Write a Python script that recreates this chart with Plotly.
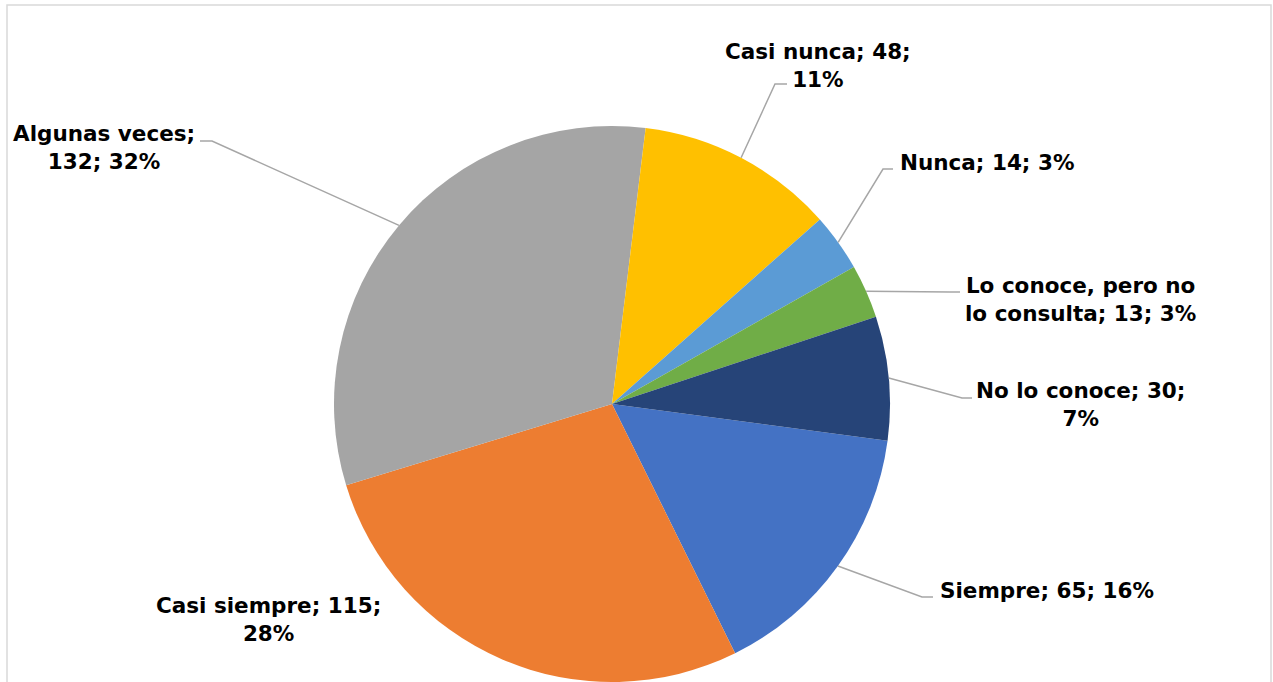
import math
import textwrap
import plotly.graph_objects as go

# Survey answers, in the order the slices are drawn (clockwise)
categories = ["Siempre", "Casi siempre", "Algunas veces", "Casi nunca",
              "Nunca", "Lo conoce, pero no lo consulta", "No lo conoce"]
counts = [65, 115, 132, 48, 14, 13, 30]
percent_labels = [16, 28, 32, 11, 3, 3, 7]

colors = ["#4472C4", "#ED7D31", "#A5A5A5", "#FFC000",
          "#5B9BD5", "#70AD47", "#264478"]

# Canvas and pie geometry (pixels)
W, H = 1273, 682
CX, CY, R = 612, 404, 278
START_ANGLE = 97.6  # degrees clockwise from 12 o'clock for the first slice

# Label placement: text centre, wrap width, and leader line elbow/end points
label_layout = {
    "Algunas veces": dict(pos=(104, 147), wrap=14, leader=[(212, 141), (200, 141)]),
    "Casi nunca": dict(pos=(818, 65), wrap=16, leader=[(775, 84), (787, 84)]),
    "Nunca": dict(pos=(987, 162), wrap=30, leader=[(883, 169), (893, 169)]),
    "Lo conoce, pero no lo consulta": dict(pos=(1080, 299), wrap=19,
                                           leader=[(950, 292), (960, 292)]),
    "No lo conoce": dict(pos=(1080, 404), wrap=18, leader=[(962, 398), (972, 398)]),
    "Siempre": dict(pos=(1047, 590), wrap=30, leader=[(922, 597), (933, 597)]),
    "Casi siempre": dict(pos=(268, 619), wrap=18, leader=None),
}


def px(x):
    return x / W


def py(y):
    return 1 - y / H


fig = go.Figure(go.Pie(
    labels=categories,
    values=counts,
    sort=False,
    direction="clockwise",
    rotation=START_ANGLE,
    marker=dict(colors=colors, line=dict(width=0)),
    textinfo="none",
    hoverinfo="label+value+percent",
    showlegend=False,
    domain=dict(x=[px(CX - R), px(CX + R)], y=[py(CY + R), py(CY - R)]),
))

total = sum(counts)
shapes = []
annotations = []
cum = 0
for cat, val, pct in zip(categories, counts, percent_labels):
    mid = START_ANGLE + (cum + val / 2) / total * 360
    cum += val
    spec = label_layout[cat]
    text = "<br>".join(textwrap.wrap(f"{cat}; {val}; {pct}%", spec["wrap"]))
    annotations.append(dict(
        x=px(spec["pos"][0]), y=py(spec["pos"][1]), xref="paper", yref="paper",
        text=text, showarrow=False, xanchor="center", yanchor="middle",
        align="center",
        font=dict(family="DejaVu Sans", size=21.5, color="black", weight="bold"),
    ))
    if spec["leader"]:
        a = math.radians(mid)
        ex, ey = CX + R * math.sin(a), CY - R * math.cos(a)
        pts = [(ex, ey)] + spec["leader"]
        path = "M " + " L ".join(f"{px(x):.5f},{py(y):.5f}" for x, y in pts)
        shapes.append(dict(type="path", path=path, xref="paper", yref="paper",
                           line=dict(color="#A6A6A6", width=1.5)))

# Chart area frame
shapes.append(dict(type="rect", xref="paper", yref="paper",
                   x0=px(7), x1=px(1271), y0=-0.05, y1=py(5),
                   line=dict(color="#D9D9D9", width=1.5), layer="below"))

fig.update_layout(
    width=W, height=H,
    margin=dict(l=0, r=0, t=0, b=0),
    paper_bgcolor="white", plot_bgcolor="white",
    shapes=shapes, annotations=annotations,
)

fig.write_html("out.html")
